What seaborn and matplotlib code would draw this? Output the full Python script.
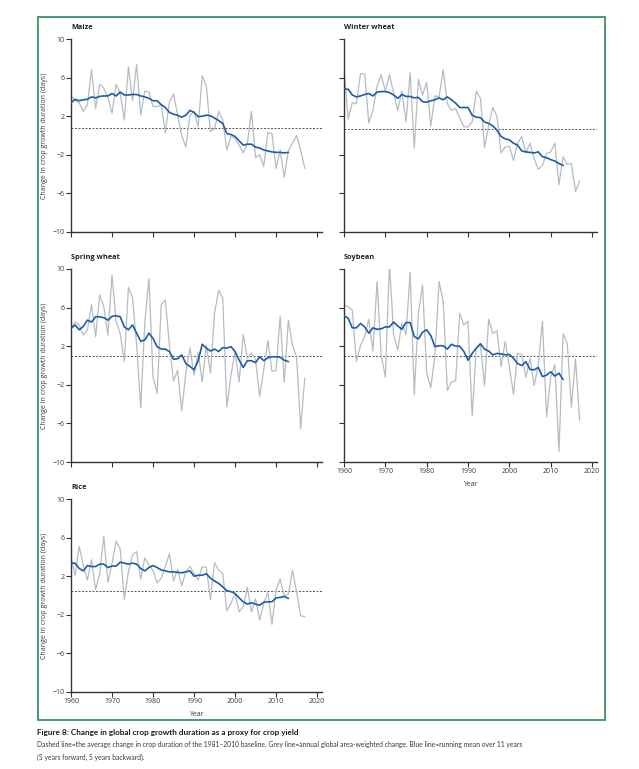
import numpy as np
import pandas as pd
import matplotlib
matplotlib.use('Agg')
import matplotlib.pyplot as plt
from matplotlib.patches import Rectangle
import seaborn as sns

#%% data

years = list(range(1960, 2018))          # grey line, annual
years_rm = list(range(1960, 2014))       # blue line, running mean

maize_annual = [4.1, 3.6, 3.4, 2.5, 3.2, 6.8, 2.8, 5.3, 4.9, 3.9,
                2.3, 5.3, 4.4, 1.6, 7.1, 3.6, 7.4, 2.1, 4.6, 4.5,
                3.0, 3.0, 3.2, 0.3, 3.5, 4.3, 2.1, 0.0, -1.2, 2.1,
                2.5, 0.9, 6.2, 5.1, 0.4, 0.7, 2.5, 1.6, -1.5, -0.1,
                -0.3, -1.0, -1.8, -0.8, 2.5, -2.3, -2.0, -3.2, 0.3, 0.2,
                -3.4, -1.5, -4.3, -1.6, -0.8, 0.0, -1.5, -3.4]
maize_mean = [3.4, 3.75, 3.6, 3.7, 3.75, 4.0, 3.9, 4.05, 4.1, 4.1,
              4.35, 4.1, 4.5, 4.2, 4.2, 4.25, 4.25, 4.1, 4.0, 3.85,
              3.6, 3.6, 3.2, 2.9, 2.4, 2.2, 2.1, 1.9, 2.1, 2.6,
              2.4, 1.95, 2.0, 2.1, 2.05, 1.8, 1.55, 1.25, 0.2, 0.1,
              -0.1, -0.55, -1.0, -0.9, -0.9, -1.2, -1.3, -1.5, -1.6, -1.7,
              -1.75, -1.75, -1.8, -1.75]

winter_annual = [7.1, 1.7, 3.4, 3.3, 6.4, 6.4, 1.3, 2.6, 5.1, 6.3,
                 4.6, 6.3, 4.4, 2.6, 4.6, 1.4, 6.5, -1.3, 5.8, 4.2,
                 5.5, 1.0, 4.1, 4.0, 6.8, 3.3, 2.6, 2.8, 1.8, 0.9,
                 0.9, 1.4, 4.6, 3.85, -1.25, 1.1, 2.9, 2.0, -1.8, -1.2,
                 -1.1, -2.6, -0.8, -0.1, -1.8, -0.8, -2.4, -3.5, -3.1, -1.85,
                 -1.7, -0.8, -5.1, -2.2, -3.0, -2.9, -5.8, -4.7]
winter_mean = [4.8, 4.8, 4.2, 4.0, 4.1, 4.25, 4.35, 4.1, 4.5, 4.55,
               4.55, 4.45, 4.2, 3.85, 4.25, 4.05, 4.05, 3.9, 3.95, 3.5,
               3.45, 3.6, 3.7, 3.9, 3.7, 4.0, 3.7, 3.35, 2.9, 2.9,
               2.9, 2.1, 1.9, 1.85, 1.4, 1.25, 1.0, 0.55, -0.1, -0.35,
               -0.45, -0.8, -1.0, -1.6, -1.7, -1.75, -1.8, -1.7, -2.2, -2.3,
               -2.5, -2.65, -2.9, -3.1]

spring_annual = [3.85, 4.5, 4.2, 3.15, 3.7, 6.3, 3.0, 7.3, 6.1, 3.15,
                 9.4, 4.6, 3.3, 0.4, 8.1, 7.0, 2.2, -4.4, 4.5, 9.0,
                 -1.2, -2.9, 6.3, 6.8, 2.1, -1.6, -0.5, -4.7, -0.8, 1.85,
                 -1.0, 1.35, -1.7, 2.1, -0.8, 5.4, 7.8, 7.0, -4.3, -1.0,
                 1.35, -1.7, 3.2, 0.75, 1.3, 0.6, -3.2, -0.4, 2.6, -0.6,
                 -0.5, 5.1, -1.7, 4.7, 2.1, 0.9, -6.6, -1.3]
spring_mean = [3.85, 4.2, 3.7, 4.05, 4.7, 4.5, 5.05, 5.05, 4.95, 4.7,
               5.1, 5.15, 5.05, 4.0, 3.7, 4.2, 3.35, 2.5, 2.65, 3.35,
               2.8, 1.95, 1.7, 1.7, 1.45, 0.65, 0.7, 1.1, 0.2, -0.1,
               -0.45, 0.5, 2.2, 1.8, 1.5, 1.7, 1.45, 1.85, 1.8, 1.95,
               1.45, 0.55, -0.2, 0.5, 0.5, 0.3, 0.9, 0.5, 0.8, 0.9,
               0.9, 0.85, 0.55, 0.4]

soy_annual = [6.25, 6.1, 5.75, 0.4, 2.1, 3.0, 4.8, 1.5, 8.7, 1.1,
              -1.2, 10.6, 3.2, 1.6, 4.4, 3.2, 9.65, -3.0, 5.4, 8.35,
              -0.8, -2.3, 1.1, 8.7, 6.6, -2.6, -1.7, -1.6, 5.4, 4.2,
              4.6, -5.2, 1.8, 2.1, -2.1, 4.8, 3.3, 3.6, -0.1, 2.5,
              -0.1, -3.0, 1.25, 1.15, -1.25, 0.75, -2.1, 0.1, 4.6, -5.3,
              -1.15, 0.1, -8.9, 3.3, 2.3, -4.3, 0.7, -5.65]
soy_mean = [5.15, 4.9, 3.9, 3.9, 4.35, 4.0, 3.35, 3.9, 3.75, 3.8,
            4.0, 4.0, 4.5, 4.1, 3.75, 4.45, 4.45, 3.0, 2.75, 3.45,
            3.7, 3.1, 1.95, 2.05, 2.05, 1.7, 2.2, 2.0, 2.0, 1.45,
            0.55, 1.25, 1.8, 2.25, 1.7, 1.5, 1.1, 1.25, 1.2, 1.1,
            1.15, 0.75, 0.2, 0.0, 0.4, -0.4, -0.45, -0.2, -1.15, -1.0,
            -0.65, -1.1, -0.8, -1.45]

rice_annual = [4.0, 2.1, 5.1, 3.15, 1.6, 3.7, 0.6, 2.3, 6.15, 1.35,
               3.3, 5.65, 4.8, -0.4, 2.45, 4.2, 4.55, 1.7, 3.9, 3.15,
               2.6, 1.3, 1.8, 3.0, 4.35, 1.5, 2.7, 1.0, 2.45, 3.0,
               2.3, 1.6, 3.0, 2.9, -0.45, 3.4, 2.6, 2.3, -1.6, -0.8,
               0.2, -1.7, -1.15, 0.85, -1.7, -0.35, -2.55, -0.8, 0.3, -3.0,
               0.55, 1.7, -0.1, 0.15, 2.6, 0.4, -2.1, -2.2]
rice_mean = [3.35, 3.35, 2.8, 2.55, 3.1, 3.0, 3.0, 3.25, 3.25, 2.9,
             3.05, 3.05, 3.45, 3.35, 3.25, 3.35, 3.25, 2.8, 2.55, 2.9,
             3.1, 2.9, 2.65, 2.55, 2.45, 2.45, 2.4, 2.35, 2.45, 2.55,
             2.0, 2.1, 2.1, 2.25, 1.8, 1.5, 1.25, 0.9, 0.5, 0.4,
             0.2, -0.25, -0.65, -0.9, -0.75, -0.9, -1.0, -0.7, -0.65, -0.65,
             -0.25, -0.2, -0.1, -0.3]

# 1981-2010 baseline average
baselines = {"Maize": 0.8, "Winter wheat": 0.67, "Spring wheat": 0.95,
             "Soybean": 0.95, "Rice": 0.43}

crops = ["Maize", "Winter wheat", "Spring wheat", "Soybean", "Rice"]
annual = {"Maize": maize_annual, "Winter wheat": winter_annual,
          "Spring wheat": spring_annual, "Soybean": soy_annual, "Rice": rice_annual}
runmean = {"Maize": maize_mean, "Winter wheat": winter_mean,
           "Spring wheat": spring_mean, "Soybean": soy_mean, "Rice": rice_mean}

yticks = [-10, -6, -2, 2, 6, 10]
xticks = [1960, 1970, 1980, 1990, 2000, 2010, 2020]

#%% layout / style

sns.set_theme(style="ticks")
plt.rcParams['font.family'] = ['Open Sans', 'DejaVu Sans']

W, H = 639, 769
fig = plt.figure(figsize=(W / 100, H / 100), dpi=100)

# pixel boxes (left, top, right, bottom)
boxes = {"Maize": (71, 39, 322, 232),
         "Winter wheat": (344, 39, 597, 232),
         "Spring wheat": (71, 269, 322, 462),
         "Soybean": (344, 269, 597, 462),
         "Rice": (71, 499, 322, 692)}

grey = '#b4bcc4'
blue = '#1f5ca6'
axcol = '#333333'
txtcol = '#3a3a3a'

# green frame
fig.patches.append(Rectangle((38 / W, 1 - 720 / H), (605 - 38) / W, (720 - 17) / H,
                             transform=fig.transFigure, fill=False,
                             edgecolor='#3d9163', lw=1.3))

for crop in crops:
    l, t, r, b = boxes[crop]
    ax = fig.add_axes([l / W, 1 - b / H, (r - l) / W, (b - t) / H])
    df = pd.DataFrame({"Year": years, "Change": annual[crop]})
    dfm = pd.DataFrame({"Year": years_rm, "Change": runmean[crop]})
    ax.axhline(baselines[crop], color='#555555', lw=0.7, ls=(0, (2, 1.6)), zorder=1)
    sns.lineplot(data=df, x="Year", y="Change", ax=ax, color=grey, lw=0.9, zorder=2)
    sns.lineplot(data=dfm, x="Year", y="Change", ax=ax, color=blue, lw=1.2, zorder=3)

    ax.set_xlim(1960, 2021.2)
    ax.set_ylim(-10, 10)
    ax.set_xticks(xticks)
    ax.set_yticks(yticks)
    sns.despine(ax=ax)
    for s in ["left", "bottom"]:
        ax.spines[s].set_color(axcol)
        ax.spines[s].set_linewidth(1.0)
    ax.tick_params(axis='both', length=3.5, width=0.8, color=axcol,
                   labelsize=5, labelcolor=txtcol, pad=1)

    ax.text(0, 1.062, crop, transform=ax.transAxes, ha='left', va='center',
            fontsize=5.3, fontweight='bold', color='#222222')

    if l < 100:
        ax.set_ylabel("Change in crop growth duration (days)", fontsize=5,
                      color=txtcol, labelpad=3)
    else:
        ax.set_ylabel("")
        ax.set_yticklabels([])
    if crop in ("Soybean", "Rice"):
        ax.set_xlabel("Year", fontsize=5, color=txtcol, labelpad=4)
    else:
        ax.set_xlabel("")
        ax.set_xticklabels([])

# caption
fig.text(37 / W, 1 - 733 / H, "Figure 8: Change in global crop growth duration as a proxy for crop yield",
         fontsize=5.85, fontweight='bold', color='#1a1a1a', va='center', ha='left',
         family=['Lato', 'DejaVu Sans'])
fig.text(37 / W, 1 - 745 / H,
         "Dashed line=the average change in crop duration of the 1981\u20132010 baseline. "
         "Grey line=annual global area-weighted change. Blue line=running mean over 11 years",
         fontsize=4.9, color='#3a3a3a', va='center', ha='left', family=['Lato', 'DejaVu Sans'])
fig.text(37 / W, 1 - 757 / H, "(5 years forward, 5 years backward).",
         fontsize=4.9, color='#3a3a3a', va='center', ha='left', family=['Lato', 'DejaVu Sans'])

fig.savefig("out.png", dpi=100, facecolor='white')
